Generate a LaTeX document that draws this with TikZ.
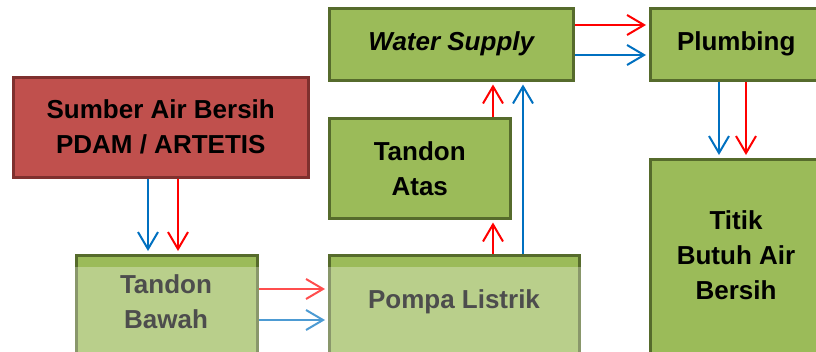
\documentclass[tikz,border=0pt]{standalone}
\usepackage{fontspec}
\setmainfont{Liberation Sans}
\usetikzlibrary{arrows.meta}
\definecolor{gfill}{HTML}{9BBB59}
\definecolor{gline}{HTML}{566B2C}
\definecolor{rfill}{HTML}{C0504D}
\definecolor{rline}{HTML}{7F302E}
\definecolor{ared}{HTML}{FF0000}
\definecolor{ablue}{HTML}{0070C0}
\tikzset{
  boxtext/.style={font=\fontsize{26}{35}\selectfont\bfseries, align=center, text=black, inner sep=0pt},
  gbox/.style={boxtext, draw=gline, fill=gfill, line width=2.5pt, anchor=north west},
  rbox/.style={gbox, draw=rline, fill=rfill},
  flow/.style={line width=2pt, -{Straight Barb[length=17pt,width=20pt]}, shorten >=3pt},
  redflow/.style={flow, draw=ared},
  blueflow/.style={flow, draw=ablue},
}
\begin{document}
\begin{tikzpicture}[x=1pt,y=-1pt]
\useasboundingbox (0,0) rectangle (816,351);
\clip (0,0) rectangle (816,351);
% boxes
\node[rbox, minimum width=295pt, minimum height=100pt] (src) at (12,76) {Sumber Air Bersih\\PDAM / ARTETIS};
\node[gbox, minimum width=244pt, minimum height=72pt] (ws) at (328,7) {\itshape Water Supply};
\node[gbox, minimum width=172pt, minimum height=72pt] (pl) at (649,7) {Plumbing};
\node[gbox, minimum width=181pt, minimum height=100pt] (ta) at (328,117) {Tandon\\Atas};
\node[gbox, minimum width=181pt, minimum height=115pt] (tb) at (75,254) {};
\node[gbox, minimum width=250pt, minimum height=115pt] (pm) at (328,254) {};
\node[gbox, minimum width=172pt, minimum height=212pt] (tt) at (649,158) {};
% texts of the boxes cut by the picture edge
\node[boxtext] (tbt) at (166,302) {Tandon\\Bawah};
\node[boxtext] (pmt) at (454,302) {Pompa Listrik};
\node[boxtext] (ttt) at (736,255) {Titik\\Butuh Air\\Bersih};
% guide coordinates
\coordinate (xb1) at (148,0);
\coordinate (xr1) at (178,0);
\coordinate (yr2) at (0,289);
\coordinate (yb2) at (0,320);
\coordinate (xr3) at (493,0);
\coordinate (xb3) at (523,0);
\coordinate (yr4) at (0,25);
\coordinate (yb4) at (0,55);
\coordinate (xb5) at (719,0);
\coordinate (xr5) at (746,0);
% connectors
\draw[blueflow] (src.south -| xb1) -- (tb.north -| xb1);
\draw[redflow] (src.south -| xr1) -- (tb.north -| xr1);
\draw[redflow] (tb.east |- yr2) -- (pm.west |- yr2);
\draw[blueflow] (tb.east |- yb2) -- (pm.west |- yb2);
\draw[redflow] (pm.north -| xr3) -- (ta.south -| xr3);
\draw[redflow] (ta.north -| xr3) -- (ws.south -| xr3);
\draw[blueflow] (pm.north -| xb3) -- (ws.south -| xb3);
\draw[redflow] (ws.east |- yr4) -- (pl.west |- yr4);
\draw[blueflow] (ws.east |- yb4) -- (pl.west |- yb4);
\draw[blueflow] (pl.south -| xb5) -- (tt.north -| xb5);
\draw[redflow] (pl.south -| xr5) -- (tt.north -| xr5);
% faded watermark overlay
\fill[white, opacity=0.3] (40,267) rectangle (600,360);
\end{tikzpicture}
\end{document}
